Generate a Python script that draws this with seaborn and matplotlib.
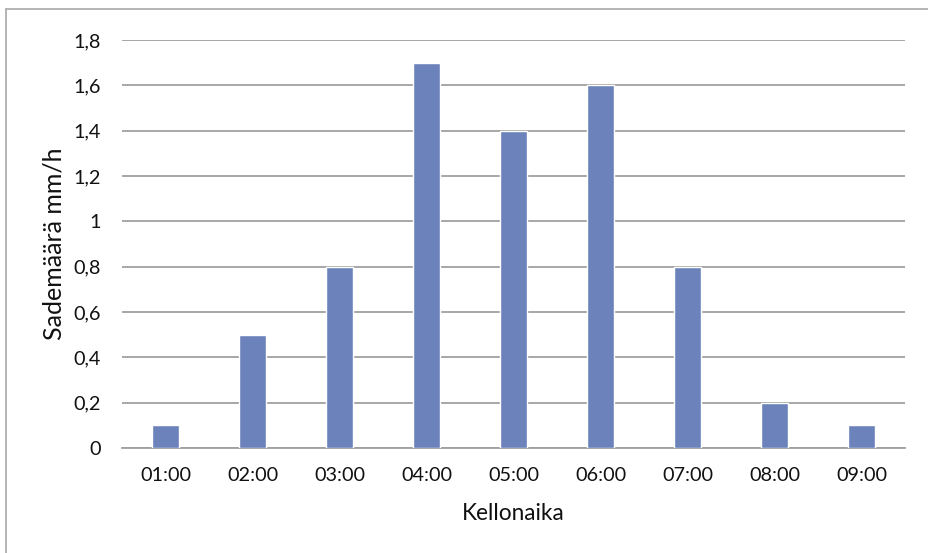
import matplotlib
matplotlib.use("Agg")
import matplotlib.pyplot as plt
from matplotlib.lines import Line2D
from matplotlib.ticker import FuncFormatter
import seaborn as sns
import pandas as pd

# Hourly rainfall
hours = ["01:00", "02:00", "03:00", "04:00", "05:00", "06:00", "07:00", "08:00", "09:00"]
rain_mm = [0.1, 0.5, 0.8, 1.7, 1.4, 1.6, 0.8, 0.2, 0.1]
y_ticks = [0, 0.2, 0.4, 0.6, 0.8, 1.0, 1.2, 1.4, 1.6, 1.8]

df = pd.DataFrame({"Kellonaika": hours, "Sademäärä": rain_mm})

sns.set_theme(style="white")
plt.rcParams["font.family"] = ["Lato", "DejaVu Sans"]

fig = plt.figure(figsize=(9.29, 5.53), dpi=100)
ax = fig.add_axes([0.1313, 0.1899, 0.8429, 0.7378])

sns.barplot(data=df, x="Kellonaika", y="Sademäärä", color="#6C82BA",
            saturation=1, width=0.31, ax=ax, zorder=3)

ax.set_ylim(0, 1.8)
ax.set_xlim(-0.5, len(hours) - 0.5)
ax.set_yticks(y_ticks)
ax.yaxis.set_major_formatter(FuncFormatter(
    lambda v, _: ("%g" % round(v, 1)).replace(".", ",")))
ax.grid(axis="y", color="#A0A0A0", linewidth=1.3, zorder=0)
ax.set_axisbelow(True)
for side in ["top", "right", "left"]:
    ax.spines[side].set_visible(False)
ax.spines["bottom"].set_color("#A0A0A0")
ax.spines["bottom"].set_linewidth(1.3)
ax.tick_params(axis="both", length=0, labelsize=14.3, colors="#111111")
ax.tick_params(axis="x", pad=14)
ax.tick_params(axis="y", pad=15.5)
ax.set_xlabel("Kellonaika", fontsize=16.3, color="#111111")
ax.set_ylabel("Sademäärä mm/h", fontsize=18, color="#111111")
ax.xaxis.set_label_coords(0.5, -0.135)
ax.yaxis.set_label_coords(-0.072, 0.5)

# chart frame edges
fig.add_artist(Line2D([0.00646, 1.0], [0.9837, 0.9837], transform=fig.transFigure,
                      color="#A8A8A8", linewidth=1.2))
fig.add_artist(Line2D([0.00646, 0.00646], [0.0, 0.9837], transform=fig.transFigure,
                      color="#A8A8A8", linewidth=1.2))

fig.savefig("out.png", dpi=100)
